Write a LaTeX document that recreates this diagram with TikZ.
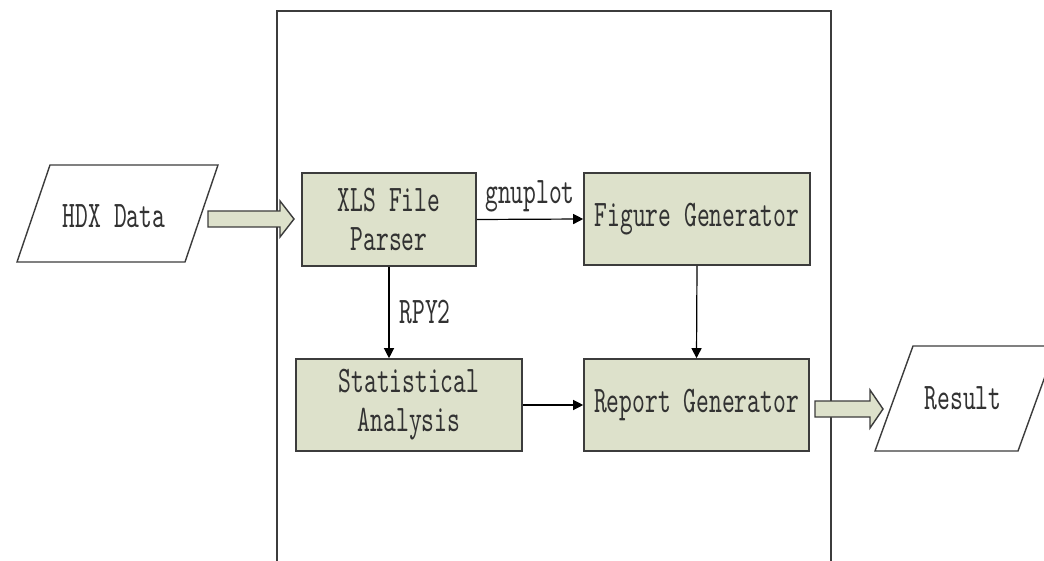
\documentclass[tikz,border=0pt]{standalone}
\usepackage{fontspec}
\usetikzlibrary{arrows.meta,calc}
\newfontfamily\dfont[FakeStretch=0.65]{lmmono10-regular.otf}
\definecolor{boxfill}{RGB}{221,225,203}
\definecolor{boxline}{RGB}{60,60,60}
\definecolor{txt}{RGB}{50,50,50}
\tikzset{
  procbox/.style={draw=boxline, fill=boxfill, line width=1.6pt, inner sep=0pt, align=center, text=txt, font=\dfont\fontsize{37.5}{39}\selectfont},
  lbl/.style={inner sep=0pt, text=txt, font=\dfont\fontsize{37.5}{39}\selectfont},
  conn/.style={draw=black, line width=1.2pt, -{Triangle[length=10pt,width=10pt]}},
  hollow/.style={draw=boxline, fill=boxfill, line width=1.4pt, line join=miter},
  iobox/.style={draw=boxline, line width=1.4pt, line join=miter},
  frame/.style={draw=boxline, line width=1.6pt}
}
\begin{document}
\begin{tikzpicture}[x=1pt,y=-1pt]
\useasboundingbox[fill=white] (0,0) rectangle (1044,561);
% enclosing frame
\draw[frame] (277,561) -- (277,11) -- (831,11) -- (831,561);
% process boxes
\node[procbox, minimum width=174pt, minimum height=93pt] (xls) at (389,219.5) {XLS File\\Parser};
\node[procbox, minimum width=226pt, minimum height=92pt] (fig) at (697,219) {Figure Generator};
\node[procbox, minimum width=226pt, minimum height=92pt] (stat) at (409,405) {Statistical\\Analysis};
\node[procbox, minimum width=225pt, minimum height=92pt] (rep) at (696.5,405) {Report Generator};
% input parallelogram
\coordinate (h1) at (50,165); \coordinate (h2) at (218,165);
\coordinate (h3) at (185,262); \coordinate (h4) at (17,262);
\draw[iobox] (h1) -- (h2) -- (h3) -- (h4) -- cycle;
\node[lbl] (hdx) at (114,216) {HDX Data};
% output parallelogram
\coordinate (r1) at (913,346); \coordinate (r2) at (1056,346);
\coordinate (r3) at (1018,451); \coordinate (r4) at (875,451);
\draw[iobox] (r1) -- (r2) -- (r3) -- (r4) -- cycle;
\node[lbl] (res) at (963,398) {Result};
% connectors
\draw[conn] (xls.east) -- (fig.west) node[lbl, pos=0.5, above=7pt] (gp) {gnuplot};
\draw[conn] (xls.south) -- (xls.south |- stat.north) node[lbl, pos=0.5, right=10pt] (rp) {RPY2};
\draw[conn] (fig.south) -- (rep.north);
\draw[conn] (stat.east) -- (rep.west);
% hollow arrows
\coordinate (a0) at (208,219);
\draw[hollow] ($(a0)+(0,-8)$) -- ++(72,0) -- ++(0,-10) -- ++(14,18) -- ++(-14,18) -- ++(0,-10) -- ++(-72,0) -- cycle;
\coordinate (b0) at (815,409);
\draw[hollow] ($(b0)+(0,-8)$) -- ++(55,0) -- ++(0,-11) -- ++(13,19) -- ++(-13,19) -- ++(0,-11) -- ++(-55,0) -- cycle;
\end{tikzpicture}
\end{document}
